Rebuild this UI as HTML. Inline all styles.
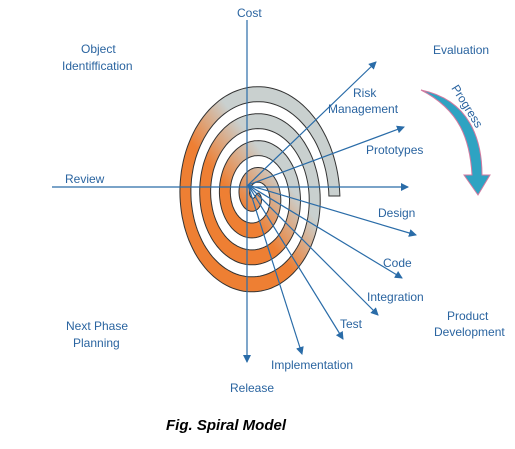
<!DOCTYPE html>
<html><head><meta charset="utf-8"><style>
html,body{margin:0;padding:0;background:#fff;width:515px;height:449px;overflow:hidden}
svg{display:block}
text{font-family:"Liberation Sans",sans-serif;font-size:12px;fill:#2a64a0}
</style></head><body>
<svg id="s" width="515" height="449" viewBox="0 0 515 449">
<defs>
<linearGradient id="g" x1="1" y1="0" x2="0" y2="1">
<stop offset="0" stop-color="#c9d0cf"/><stop offset="0.4" stop-color="#c9d0cf"/><stop offset="0.6" stop-color="#ee7f33"/><stop offset="1" stop-color="#ee7f33"/>
</linearGradient>
<marker id="a" markerWidth="8" markerHeight="8" refX="7" refY="4" orient="auto" markerUnits="userSpaceOnUse"><path d="M0,0 L8,4 L0,8 Z" fill="#2a6ca8"/></marker>
</defs>
<path id="sp" fill="url(#g)" stroke="#333" stroke-width="1"/>
<g stroke="#2a6ca8" stroke-width="1.2" fill="none">
<line x1="247" y1="20" x2="247" y2="362" marker-end="url(#a)"/>
<line x1="52" y1="187" x2="408" y2="187" marker-end="url(#a)"/>
<line x1="248" y1="185" x2="376" y2="62" marker-end="url(#a)"/>
<line x1="248" y1="185" x2="404" y2="127" marker-end="url(#a)"/>
<line x1="248" y1="185" x2="416" y2="235" marker-end="url(#a)"/>
<line x1="248" y1="185" x2="402" y2="278" marker-end="url(#a)"/>
<line x1="248" y1="185" x2="378" y2="315" marker-end="url(#a)"/>
<line x1="248" y1="185" x2="343" y2="339" marker-end="url(#a)"/>
<line x1="248" y1="185" x2="302" y2="354" marker-end="url(#a)"/>
</g>
<path d="M421,90 C470,100 482,140 482,175 L490,175 L478,195 L464,175 L472,175 C470,140 460,110 421,90 Z" fill="#2ea3c2" stroke="#d27aa0" stroke-width="1"/>
<text x="237" y="17">Cost</text>
<text x="81" y="53">Object</text>
<text x="62" y="70">Identiffication</text>
<text x="433" y="54">Evaluation</text>
<text x="353" y="97">Risk</text>
<text x="328" y="113">Management</text>
<text x="366" y="154">Prototypes</text>
<text x="65" y="183">Review</text>
<text x="378" y="217">Design</text>
<text x="383" y="267">Code</text>
<text x="367" y="301">Integration</text>
<text x="340" y="328">Test</text>
<text x="447" y="320">Product</text>
<text x="434" y="336">Development</text>
<text x="66" y="330">Next Phase</text>
<text x="73" y="347">Planning</text>
<text x="271" y="369">Implementation</text>
<text x="230" y="392">Release</text>
<text transform="translate(451,88) rotate(58)">Progress</text>
<text x="166" y="430" style="font-size:15px;font-weight:bold;font-style:italic;fill:#000">Fig. Spiral Model</text>
</svg>
<script>
(function(){
var cx=255,cy=196,sx=0.732,R0=116,k=4.3,w=15,max=25.8;
var o=[],i=[];
for(var p=0;p<=max;p+=0.05){
 var r=R0-k*p, ri=r-w; if(ri<1)ri=1;
 o.push((cx+sx*r*Math.cos(p)).toFixed(1)+","+(cy-r*Math.sin(p)).toFixed(1));
 i.push((cx+sx*ri*Math.cos(p)).toFixed(1)+","+(cy-ri*Math.sin(p)).toFixed(1));
}
document.getElementById("sp").setAttribute("d","M"+o.join(" L")+" L"+i.reverse().join(" L")+" Z");
})();
</script>
</body></html>
